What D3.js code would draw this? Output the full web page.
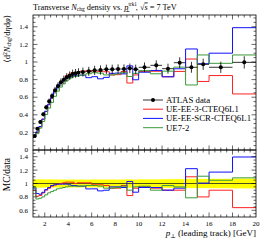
<!DOCTYPE html>
<html><head><meta charset="utf-8">
<script src="https://cdn.jsdelivr.net/npm/d3@7"></script>
<style>
html,body{margin:0;padding:0;background:#fff;}
text{font-family:"Liberation Serif","DejaVu Serif",serif;fill:#000;}
</style></head>
<body><svg id="c" width="266" height="240"></svg>
<script>
const binEdges = [1,1.25,1.5,1.75,2,2.25,2.5,2.75,3,3.25,3.5,3.75,4,4.25,4.5,4.75,5,5.5,6,6.5,7,7.5,8,8.5,9,9.5,10,11,12,13,14,15,16,18,20];
const dataVals = [0.159,0.242,0.318,0.405,0.485,0.553,0.614,0.678,0.727,0.769,0.799,0.826,0.845,0.864,0.871,0.879,0.886,0.894,0.905,0.909,0.917,0.917,0.920,0.920,0.928,0.917,0.940,0.962,0.924,0.992,0.940,0.974,0.940,0.996];
const dataErr = [0.009,0.014,0.019,0.024,0.028,0.032,0.036,0.039,0.041,0.044,0.046,0.047,0.048,0.049,0.050,0.050,0.051,0.051,0.052,0.052,0.053,0.053,0.053,0.053,0.054,0.053,0.055,0.057,0.057,0.062,0.062,0.064,0.064,0.070];
const ueEE3 = [0.143,0.196,0.261,0.348,0.437,0.514,0.589,0.664,0.720,0.769,0.807,0.843,0.862,0.881,0.871,0.888,0.895,0.903,0.887,0.891,0.889,0.853,0.856,0.892,0.761,0.853,0.893,0.895,0.832,0.893,1.034,0.779,0.846,0.637];
const ueEESCR = [0.148,0.206,0.267,0.352,0.441,0.520,0.596,0.664,0.720,0.761,0.791,0.818,0.828,0.838,0.845,0.844,0.851,0.822,0.833,0.809,0.825,0.871,0.874,0.865,0.956,0.798,0.884,0.904,0.832,0.923,1.148,0.980,1.100,1.390];
const ue72 = [0.151,0.186,0.248,0.324,0.403,0.476,0.540,0.610,0.669,0.715,0.751,0.785,0.811,0.829,0.836,0.844,0.851,0.867,0.878,0.873,0.853,0.853,0.865,0.883,0.835,0.871,0.902,0.866,0.896,0.942,0.739,1.080,0.985,1.080];
const seriesNames = ["UE-EE-3-CTEQ6L1","UE-EE-SCR-CTEQ6L1","UE7-2"];
const seriesColors = ["#ff2020","#1010ff","#3a9a3a"];
const xTickVals = [2,4,6,8,10,12,14,16,18,20];
const mainYTicks = [0,0.2,0.4,0.6,0.8,1,1.2,1.4];
const ratioYTicks = [0.6,0.8,1,1.2,1.4];

const svg = d3.select("#c");
const L = 33, R = 256, T = 15, M = 150, B = 217;
const x = d3.scaleLinear().domain([1,20]).range([L,R]);
const y = d3.scaleLinear().domain([0,1.534]).range([M,T]);
const yr = d3.scaleLinear().domain([0.5,1.5]).range([B,M]);

const defs = svg.append("defs");
defs.append("clipPath").attr("id","cm").append("rect").attr("x",L).attr("y",T).attr("width",R-L).attr("height",M-T);
defs.append("clipPath").attr("id","cr").append("rect").attr("x",L).attr("y",M).attr("width",R-L).attr("height",B-M);

function stepPath(vals, ys){
  let p = "";
  vals.forEach((v,i)=>{
    const x0 = x(binEdges[i]), x1 = x(binEdges[i+1]), yy = ys(v);
    p += (i===0? "M":"L") + x0 + "," + yy + "L" + x1 + "," + yy;
  });
  return p;
}
const allSeries = [ueEE3, ueEESCR, ue72];

// ratio band
const band = svg.append("g").attr("clip-path","url(#cr)");
let bp = "";
dataVals.forEach((d,i)=>{
  const r = dataErr[i]/d;
  bp += "M"+x(binEdges[i])+","+yr(1+r)+"H"+x(binEdges[i+1])+"V"+yr(1-r)+"H"+x(binEdges[i])+"Z";
});
band.append("path").attr("d",bp).attr("fill","#ffff00").attr("stroke","#ffff00").attr("stroke-width",0.3);
band.append("line").attr("x1",L).attr("x2",R).attr("y1",yr(1)).attr("y2",yr(1)).attr("stroke","#222").attr("stroke-width",0.8);

// MC lines
const gm = svg.append("g").attr("clip-path","url(#cm)");
const gr = svg.append("g").attr("clip-path","url(#cr)");
allSeries.forEach((s,k)=>{
  gm.append("path").attr("d",stepPath(s,y)).attr("fill","none").attr("stroke",seriesColors[k]).attr("stroke-width",1);
  const ratios = s.map((v,i)=>v/dataVals[i]);
  gr.append("path").attr("d",stepPath(ratios,yr)).attr("fill","none").attr("stroke",seriesColors[k]).attr("stroke-width",1);
});

// data
const gd = svg.append("g").attr("clip-path","url(#cm)");
dataVals.forEach((d,i)=>{
  const xc = x((binEdges[i]+binEdges[i+1])/2);
  gd.append("line").attr("x1",x(binEdges[i])).attr("x2",x(binEdges[i+1])).attr("y1",y(d)).attr("y2",y(d)).attr("stroke","#000").attr("stroke-width",0.8);
  gd.append("line").attr("x1",xc).attr("x2",xc).attr("y1",y(d-dataErr[i])).attr("y2",y(d+dataErr[i])).attr("stroke","#000").attr("stroke-width",0.8);
  gd.append("circle").attr("cx",xc).attr("cy",y(d)).attr("r",2).attr("fill","#000");
});

// frames
const fr = svg.append("g").attr("fill","none").attr("stroke","#000").attr("stroke-width",0.8);
fr.append("rect").attr("x",L).attr("y",T).attr("width",R-L).attr("height",M-T);
fr.append("rect").attr("x",L).attr("y",M).attr("width",R-L).attr("height",B-M);

// ticks
const tk = svg.append("g").attr("stroke","#000").attr("stroke-width",0.6);
function xticks(yTop, yBot){
  for(let v=1.5; v<20; v+=0.5){
    const major = xTickVals.includes(v);
    const len = major?4.5:2.5;
    tk.append("line").attr("x1",x(v)).attr("x2",x(v)).attr("y1",yTop).attr("y2",yTop+len);
    tk.append("line").attr("x1",x(v)).attr("x2",x(v)).attr("y1",yBot).attr("y2",yBot-len);
  }
}
xticks(T,M); xticks(M,B);
function yticks(sc, lo, hi, majors){
  for(let k=Math.round(lo*20); k<=Math.round(hi*20); k++){
    const v = k/20; const yy = sc(v);
    if(yy < sc.range()[1]-0.1 || yy > sc.range()[0]+0.1) continue;
    const major = majors.some(m=>Math.abs(m-v)<1e-6);
    const len = major?4.5:2.5;
    tk.append("line").attr("x1",L).attr("x2",L+len).attr("y1",yy).attr("y2",yy);
    tk.append("line").attr("x1",R).attr("x2",R-len).attr("y1",yy).attr("y2",yy);
  }
}
yticks(y,0.05,1.5,mainYTicks);
yticks(yr,0.55,1.45,ratioYTicks);

// tick labels
const fs = 7;
mainYTicks.forEach(v=>{
  svg.append("text").attr("x",28).attr("y",y(v)+2.3).attr("text-anchor","end").attr("font-size",fs).text(String(v));
});
ratioYTicks.forEach(v=>{
  svg.append("text").attr("x",28).attr("y",yr(v)+2.5).attr("text-anchor","end").attr("font-size",fs).text(String(v));
});
xTickVals.forEach(v=>{
  svg.append("text").attr("x",x(v)).attr("y",226).attr("text-anchor","middle").attr("font-size",fs).text(String(v));
});

// title
const title = svg.append("text").attr("x",L).attr("y",9.5).attr("font-size",8.3);
title.append("tspan").text("Transverse ");
title.append("tspan").attr("font-style","italic").text("N");
title.append("tspan").attr("font-size",5.5).attr("dy",1.5).text("chg");
title.append("tspan").attr("dy",-1.5).text(" density vs. ");
title.append("tspan").attr("font-style","italic").text("p");
title.append("tspan").attr("font-size",5.2).attr("dy",-4).text("trk1");
title.append("tspan").attr("font-size",5.2).attr("dx",-11.5).attr("dy",6.3).text("⊥");
title.append("tspan").attr("dx",5.5).attr("dy",-2.3).text(", √");
title.append("tspan").attr("font-style","italic").attr("text-decoration","overline").text("s");
title.append("tspan").text(" = 7 TeV");

// y labels
const yl = svg.append("text").attr("transform","translate(9.5,15) rotate(-90)").attr("text-anchor","end").attr("font-size",8.5);
yl.append("tspan").text("⟨d");
yl.append("tspan").attr("font-size",5.8).attr("dy",-3).text("2");
yl.append("tspan").attr("font-style","italic").attr("dy",3).text("N");
yl.append("tspan").attr("font-size",5.8).attr("dy",1.5).text("chg");
yl.append("tspan").attr("dy",-1.5).text("/d");
yl.append("tspan").attr("font-style","italic").text("η");
yl.append("tspan").text("d");
yl.append("tspan").attr("font-style","italic").text("φ");
yl.append("tspan").text("⟩");
svg.append("text").attr("transform","translate(9.5,158) rotate(-90)").attr("text-anchor","end").attr("font-size",9.5).text("MC/data");

// x label
const xl = svg.append("text").attr("x",R).attr("y",236).attr("text-anchor","end").attr("font-size",9);
xl.append("tspan").attr("font-style","italic").text("p");
xl.append("tspan").attr("font-size",6).attr("dy",1.5).text("⊥");
xl.append("tspan").attr("dy",-1.5).text(" (leading track) [GeV]");

// legend
const legY = [100,109.2,118.4,127.7];
const lg = svg.append("g");
lg.append("line").attr("x1",143).attr("x2",163).attr("y1",legY[0]).attr("y2",legY[0]).attr("stroke","#000").attr("stroke-width",0.8);
lg.append("circle").attr("cx",153).attr("cy",legY[0]).attr("r",2).attr("fill","#000");
lg.append("text").attr("x",166).attr("y",legY[0]+3).attr("font-size",8.8).text("ATLAS data");
seriesNames.forEach((n,k)=>{
  lg.append("line").attr("x1",143).attr("x2",163).attr("y1",legY[k+1]).attr("y2",legY[k+1]).attr("stroke",seriesColors[k]).attr("stroke-width",1);
  lg.append("text").attr("x",166).attr("y",legY[k+1]+3).attr("font-size",8.8).text(n);
});
</script></body></html>
